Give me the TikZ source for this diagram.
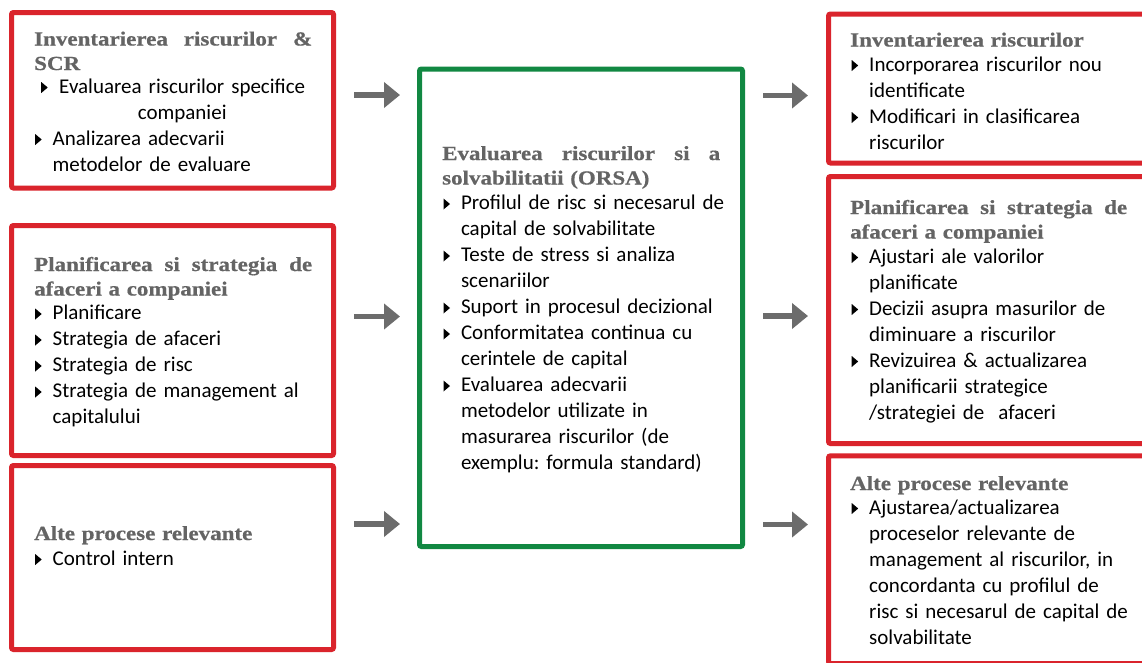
\documentclass[tikz,border=0pt]{standalone}
\usepackage{fontspec}
\usetikzlibrary{arrows.meta}
\setmainfont{Carlito}
\newfontfamily\ttlfont[FakeStretch=1.15,FakeBold=0.6]{Liberation Serif}
\definecolor{boxred}{RGB}{218,36,44}
\definecolor{boxgreen}{RGB}{17,136,66}
\definecolor{arrgray}{RGB}{108,108,108}
\definecolor{ttlgray}{RGB}{100,100,100}
\newlength\bi
\setlength\bi{17.5pt}
\frenchspacing
\newcommand\bul{\tikz[baseline=0pt,x=1pt,y=1pt]\fill[black] (0,0)--(0,11)--(6.5,5.5)--cycle;}
\newcommand\itm[1]{\noindent\hangindent=\bi\hangafter=1\makebox[\bi][l]{\bul}#1\par}
\newcommand\jl[2]{\hbox to #1{#2}}
\begin{document}
\begin{tikzpicture}[x=1pt,y=-1pt,
  redbox/.style={draw=boxred,line width=5pt,rounded corners=2pt,inner sep=0pt,outer sep=0pt},
  greenbox/.style={draw=boxgreen,line width=5pt,rounded corners=2pt,inner sep=0pt,outer sep=0pt},
  ttl/.style={anchor=base west,inner sep=0pt,text width=300pt,align=left,text=ttlgray,
    font=\ttlfont\bfseries\fontsize{20}{24.5}\selectfont},
  itms/.style={anchor=base west,inner sep=0pt,text width=300pt,align=left,text=black,
    font=\frenchspacing\fontsize{21}{26}\selectfont},
  arr/.style={draw=arrgray,line width=5.3pt,-{Triangle[length=16pt,width=25pt]}}]
\clip (0,0) rectangle (1142,662);
\fill[white] (0,0) rectangle (1142,662);
% boxes
\node[redbox,minimum width=322pt,minimum height=175.5pt] (L1) at (172.5,100.25) {};
\node[redbox,minimum width=322pt,minimum height=230pt] (L2) at (172.5,340.5) {};
\node[redbox,minimum width=322pt,minimum height=184pt] (L3) at (172.5,557.5) {};
\node[greenbox,minimum width=323pt,minimum height=477.5pt] (C) at (581,307.75) {};
\node[redbox,minimum width=331.5pt,minimum height=149pt] (R1) at (994.25,88.5) {};
\node[redbox,minimum width=331.5pt,minimum height=267pt] (R2) at (994.25,310) {};
\node[redbox,minimum width=331.5pt,minimum height=207.7pt] (R3) at (994.25,559.65) {};
% left 1
\node[ttl] (tL1) at (34,45.5) {\jl{278pt}{Inventarierea\hfill riscurilor\hfill \&}\\SCR};
\node[itms] (iL1) at (35,93) {{\centering\rightskip=23.5pt plus 1fil\hangindent=\bi\hangafter=0\noindent\llap{\bul\hspace{11.5pt}}Evaluarea riscurilor specifice\break companiei\par}%
  \itm{Analizarea adecvarii\break metodelor de evaluare}};
% left 2
\node[ttl] (tL2) at (34,271) {\jl{278pt}{Planificarea\hfill si\hfill strategia\hfill de}\\afaceri a companiei};
\node[itms] (iL2) at (35,319.5) {\itm{Planificare}\itm{Strategia de afaceri}\itm{Strategia de risc}\itm{Strategia de management al\break capitalului}};
% left 3
\node[ttl] (tL3) at (34,540) {Alte procese relevante};
\node[itms] (iL3) at (35,565) {\itm{Control intern}};
% center
\node[ttl] (tC) at (442,160) {\jl{278pt}{Evaluarea\hfill riscurilor\hfill si\hfill a}\\solvabilitatii (ORSA)};
\node[itms] (iC) at (443.3,209.5) {\itm{Profilul de risc si necesarul de\break capital de solvabilitate}\itm{Teste de stress si analiza\break scenariilor}\itm{Suport in procesul decizional}\itm{Conformitatea continua cu\break cerintele de capital}\itm{Evaluarea adecvarii\break metodelor utilizate in\break masurarea riscurilor (de\break exemplu: formula standard)}};
% right 1
\node[ttl] (tR1) at (850,46.5) {Inventarierea riscurilor};
\node[itms] (iR1) at (851.5,71) {\itm{Incorporarea riscurilor nou\break identificate}\itm{Modificari in clasificarea\break riscurilor}};
% right 2
\node[ttl] (tR2) at (850,214) {\jl{277pt}{Planificarea\hfill si\hfill strategia\hfill de}\\afaceri a companiei};
\node[itms] (iR2) at (851.5,263) {\itm{Ajustari ale valorilor\break planificate}\itm{Decizii asupra masurilor de\break diminuare a riscurilor}\itm{Revizuirea \& actualizarea\break planificarii strategice\break /strategiei de\ \ afaceri}};
% right 3
\node[ttl] (tR3) at (850,490) {Alte procese relevante};
\node[itms] (iR3) at (851.5,514) {\itm{Ajustarea/actualizarea\break proceselor relevante de\break management al riscurilor, in\break concordanta cu profilul de\break risc si necesarul de capital de\break solvabilitate}};
% arrows
\coordinate (a1s) at (354,95);    \coordinate (a1e) at (400,95);
\coordinate (a2s) at (354,316.5); \coordinate (a2e) at (400,316.5);
\coordinate (a3s) at (354,524);   \coordinate (a3e) at (400,524);
\coordinate (b1s) at (763,95.5);  \coordinate (b1e) at (808,95.5);
\coordinate (b2s) at (763,316);   \coordinate (b2e) at (808,316);
\coordinate (b3s) at (763,524.5); \coordinate (b3e) at (808,524.5);
\draw[arr] (a1s) -- (a1e);
\draw[arr] (a2s) -- (a2e);
\draw[arr] (a3s) -- (a3e);
\draw[arr] (b1s) -- (b1e);
\draw[arr] (b2s) -- (b2e);
\draw[arr] (b3s) -- (b3e);
\end{tikzpicture}
\end{document}
